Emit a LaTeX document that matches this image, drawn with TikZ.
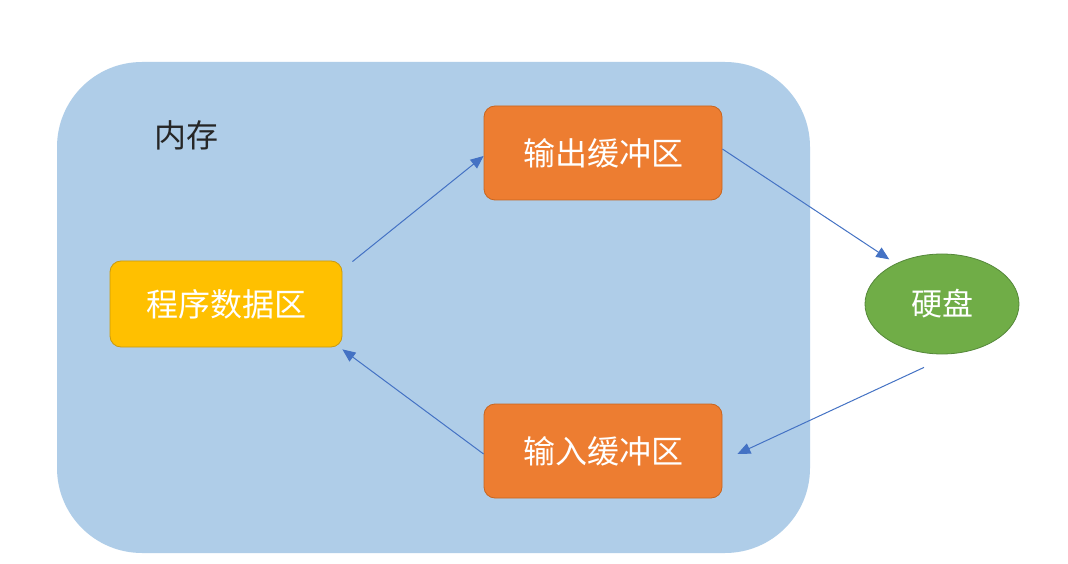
\documentclass[tikz,border=0pt]{standalone}
\usepackage{fontspec}
\setmainfont{Noto Sans CJK SC}
\usetikzlibrary{shapes.geometric,arrows.meta,calc}
\definecolor{membg}{HTML}{AFCDE8}
\definecolor{orangefill}{HTML}{ED7D31}
\definecolor{orangeline}{HTML}{C8651F}
\definecolor{yellowfill}{HTML}{FFC000}
\definecolor{yellowline}{HTML}{C99A10}
\definecolor{greenfill}{HTML}{70AD47}
\definecolor{greenline}{HTML}{55883A}
\definecolor{arrowblue}{HTML}{4472C4}
\tikzset{
  boxo/.style={draw=orangeline, fill=orangefill, rounded corners=11pt, line width=0.8pt,
    minimum width=238pt, minimum height=94pt, text=white, font=\fontsize{32}{36}\selectfont, inner sep=0pt},
  boxy/.style={draw=yellowline, fill=yellowfill, rounded corners=11pt, line width=0.8pt,
    minimum width=232pt, minimum height=86pt, text=white, font=\fontsize{32}{36}\selectfont, inner sep=0pt},
  disk/.style={ellipse, draw=greenline, fill=greenfill, line width=0.8pt,
    minimum width=154pt, minimum height=100pt, text=white, font=\fontsize{31}{35}\selectfont, inner sep=0pt},
  flow/.style={draw=arrowblue, line width=1pt, -{Triangle[length=13pt,width=11pt]}}
}
\begin{document}
\begin{tikzpicture}[x=1pt,y=1pt]
\useasboundingbox[fill=white] (0,0) rectangle (1068,563);
\node[draw=none, fill=membg, rounded corners=85pt, minimum width=753pt, minimum height=491pt, inner sep=0pt] (mem) at (433.5,255.5) {};
\node[text=black!85, font=\fontsize{32}{36}\selectfont, inner sep=0pt] (memlabel) at (186,428) {内存};
\node[boxo] (out) at (603,410) {输出缓冲区};
\node[boxo] (in) at (603,112) {输入缓冲区};
\node[boxy] (prog) at (226,259) {程序数据区};
\node[disk] (hd) at (942,259) {硬盘};
\coordinate (a1s) at ($(prog.north east)+(10,-1)$);
\coordinate (a1e) at ($(out.west)+(0,-3)$);
\coordinate (a2s) at ($(out.east)+(0,4)$);
\coordinate (a2e) at ($(hd.north west)+(2,9)$);
\coordinate (a3s) at ($(hd.south)+(-18,-13)$);
\coordinate (a3e) at ($(in.east)+(15,-3)$);
\coordinate (a4s) at ($(in.west)+(0,-3)$);
\coordinate (a4e) at ($(prog.south east)+(0,-2)$);
\draw[flow] (a1s) -- (a1e);
\draw[flow] (a2s) -- (a2e);
\draw[flow] (a3s) -- (a3e);
\draw[flow] (a4s) -- (a4e);
\end{tikzpicture}
\end{document}
